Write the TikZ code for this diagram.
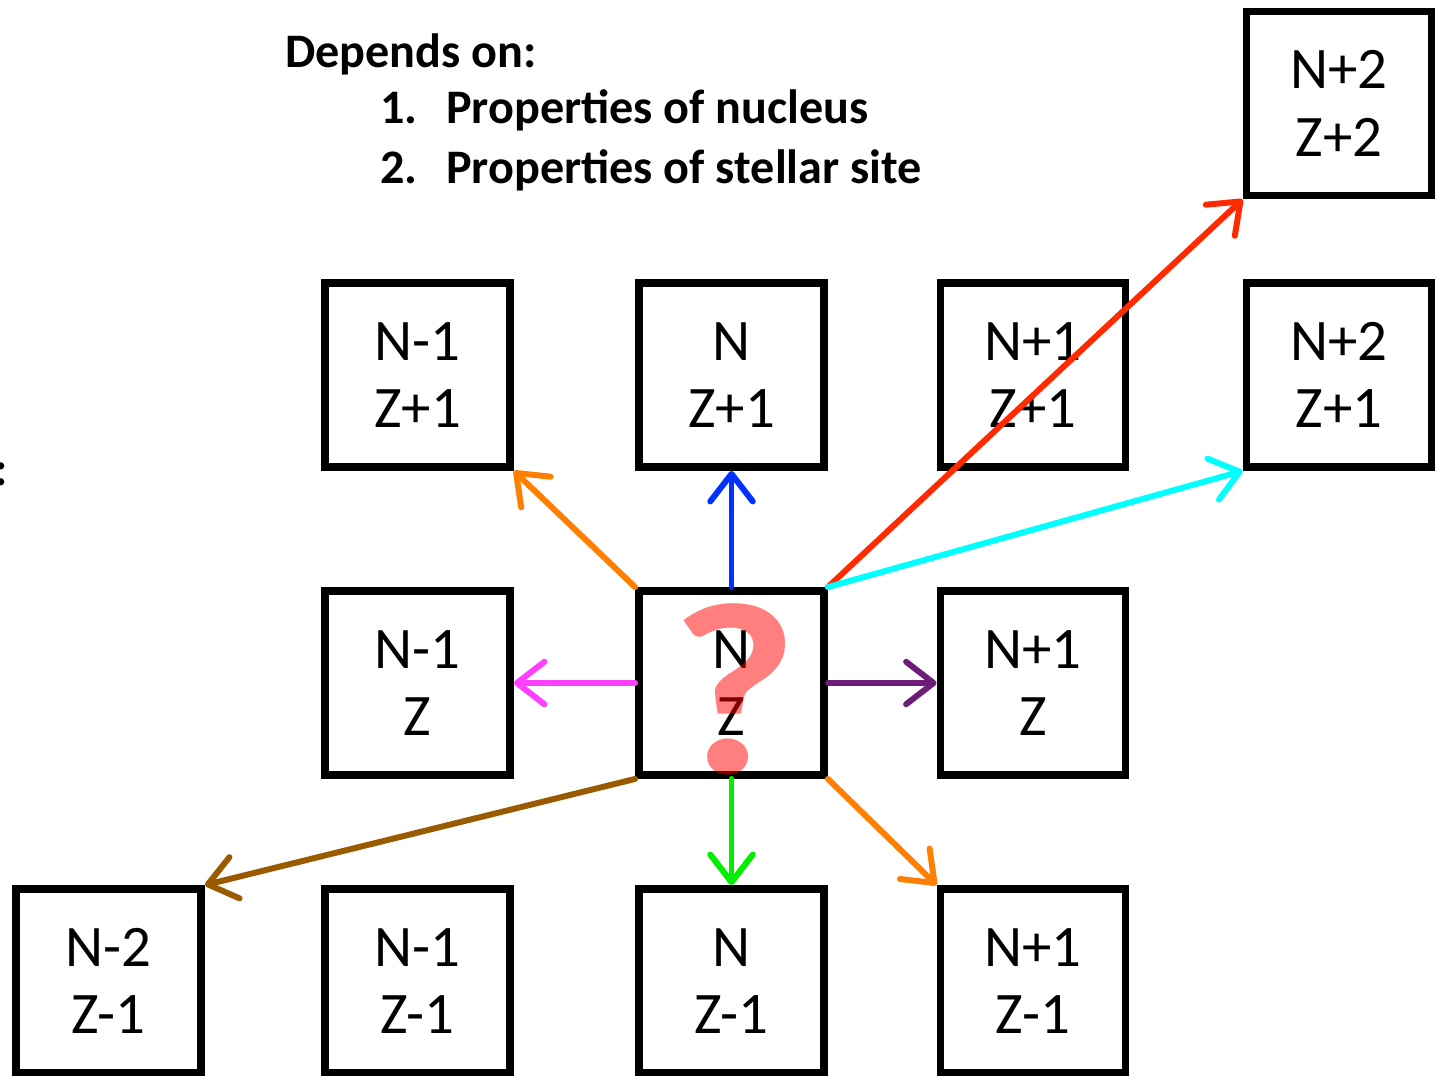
\documentclass[tikz,border=0pt]{standalone}
\usepackage{fontspec}
\setmainfont{Carlito}
\usetikzlibrary{arrows.meta}
\begin{document}
\begin{tikzpicture}[x=0.02cm,y=-0.02cm,
  box/.style={draw=black,line width=4.5pt,minimum width=3.7cm,minimum height=3.68cm,inner sep=0pt,align=center,font=\fontsize{33.5}{38.5}\selectfont},
  arr/.style={line width=3.4pt,line cap=round,-{Straight Barb[length=0.55cm,width=0.85cm,line cap=round,line join=round]}},
  heading/.style={font=\fontsize{27.4}{30}\selectfont\bfseries,anchor=base west,inner sep=0pt}]
\useasboundingbox (0,0) rectangle (1439,1075);
\fill[white] (0,0) rectangle (1439,1075);
% heading
\node[heading] (h0) at (285,67) {Depends on:};
\node[heading] (h1) at (380,123) {1.};
\node[heading] (h1t) at (446,123) {Properties of nucleus};
\node[heading] (h2) at (380,183) {2.};
\node[heading] (h2t) at (446,183) {Properties of stellar site};
\node[heading,anchor=base] (colon) at (1,485) {:};
% boxes
\node[box] (a1) at (417.5,375) {N-1\\Z+1};
\node[box] (a2) at (731.5,375) {N\\Z+1};
\node[box] (a3) at (1033,375) {N+1\\Z+1};
\node[box] (a4) at (1339,375) {N+2\\Z+1};
\node[box] (a5) at (1339,103.5) {N+2\\Z+2};
\node[box] (b1) at (417.5,683) {N-1\\Z};
\node[box] (c) at (731.5,683) {N\\Z};
\node[box] (b3) at (1033,683) {N+1\\Z};
\node[box] (d0) at (108.5,981) {N-2\\Z-1};
\node[box] (d1) at (417.5,981) {N-1\\Z-1};
\node[box] (d2) at (731.5,981) {N\\Z-1};
\node[box] (d3) at (1033,981) {N+1\\Z-1};
% arrows
\draw[arr,color={rgb,255:red,255;green,128;blue,0}] (c.north west) -- (a1.south east);
\draw[arr,color={rgb,255:red,0;green,51;blue,255}] (c.north) -- (a2.south);
\draw[arr,color={rgb,255:red,255;green,42;blue,0}] (c.north east) -- (a5.south west);
\draw[arr,color={rgb,255:red,0;green,255;blue,255}] (c.north east) -- (a4.south west);
\draw[arr,color={rgb,255:red,255;green,64;blue,255}] (c.west) -- (b1.east);
\draw[arr,color={rgb,255:red,110;green,30;blue,120}] (c.east) -- (b3.west);
\draw[arr,color={rgb,255:red,154;green,90;blue,0}] (c.south west) -- (d0.north east);
\draw[arr,color={rgb,255:red,0;green,238;blue,0}] (c.south) -- (d2.north);
\draw[arr,color={rgb,255:red,255;green,128;blue,0}] (c.south east) -- (d3.north west);
% question mark
\node[text=red,text opacity=0.5,font=\fontsize{140}{140}\selectfont\bfseries,inner sep=0pt,xscale=1.12] (q) at (734,689) {?};
\end{tikzpicture}
\end{document}
